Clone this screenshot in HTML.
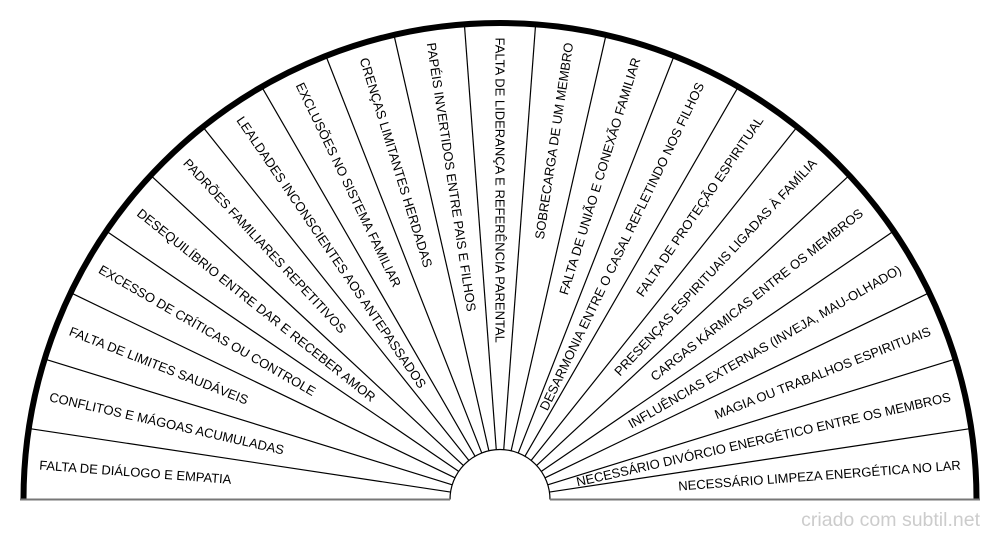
<!DOCTYPE html>
<html><head><meta charset="utf-8"><style>
html,body{margin:0;padding:0;background:#fff;}
svg{display:block;}
text{font-family:"Liberation Sans",sans-serif;}
</style></head><body>
<svg id="s" width="1000" height="540" viewBox="0 0 1000 540" xmlns="http://www.w3.org/2000/svg">
<g id="lines" stroke="#000" stroke-width="1.2" fill="none"></g>
<path d="M23.5 499.5 A476 476 0 0 1 976.5 499.5" stroke="#000" stroke-width="6" fill="none"/>
<path d="M450 499.5 A50 50 0 0 1 550 499.5" stroke="#000" stroke-width="1.2" fill="none"/>
<line x1="20" y1="499.5" x2="450" y2="499.5" stroke="#777" stroke-width="2"/>
<line x1="550" y1="499.5" x2="980" y2="499.5" stroke="#777" stroke-width="2"/>
<g id="labels" font-size="13" fill="#000"></g>
<text x="980" y="526" font-size="19.5" fill="#ccc" text-anchor="end">criado com subtil.net</text>
</svg>
<script>
var L=["FALTA DE DIÁLOGO E EMPATIA","CONFLITOS E MÁGOAS ACUMULADAS","FALTA DE LIMITES SAUDÁVEIS","EXCESSO DE CRÍTICAS OU CONTROLE","DESEQUILÍBRIO ENTRE DAR E RECEBER AMOR","PADRÕES FAMILIARES REPETITIVOS","LEALDADES INCONSCIENTES AOS ANTEPASSADOS","EXCLUSÕES NO SISTEMA FAMILIAR","CRENÇAS LIMITANTES HERDADAS","PAPÉIS INVERTIDOS ENTRE PAIS E FILHOS","FALTA DE LIDERANÇA E REFERÊNCIA PARENTAL","SOBRECARGA DE UM MEMBRO","FALTA DE UNIÃO E CONEXÃO FAMILIAR","DESARMONIA ENTRE O CASAL REFLETINDO NOS FILHOS","FALTA DE PROTEÇÃO ESPIRITUAL","PRESENÇAS ESPIRITUAIS LIGADAS À FAMÍLIA","CARGAS KÁRMICAS ENTRE OS MEMBROS","INFLUÊNCIAS EXTERNAS (INVEJA, MAU-OLHADO)","MAGIA OU TRABALHOS ESPIRITUAIS","NECESSÁRIO DIVÓRCIO ENERGÉTICO ENTRE OS MEMBROS","NECESSÁRIO LIMPEZA ENERGÉTICA NO LAR"];
var n=L.length,cx=500,cy=499.5,ns="http://www.w3.org/2000/svg",d=Math.PI/180;
var gl=document.getElementById("lines"),gt=document.getElementById("labels");
for(var i=1;i<n;i++){var a=(180-i*180/n)*d;var l=document.createElementNS(ns,"line");
l.setAttribute("x1",cx+50*Math.cos(a));l.setAttribute("y1",cy-50*Math.sin(a));
l.setAttribute("x2",cx+476*Math.cos(a));l.setAttribute("y2",cy-476*Math.sin(a));gl.appendChild(l);}
for(var i=0;i<n;i++){var th=180-(i+0.5)*180/n,a=th*d,r=462;
var x=cx+r*Math.cos(a),y=cy-r*Math.sin(a);var t=document.createElementNS(ns,"text");
t.setAttribute("x",x);t.setAttribute("y",y);t.setAttribute("dominant-baseline","central");
var rot,anc;if(th>=90-0.01){rot=180-th;anc="start";}else{rot=-th;anc="end";}
t.setAttribute("text-anchor",anc);t.setAttribute("transform","rotate("+rot+" "+x+" "+y+")");
t.textContent=L[i];gt.appendChild(t);}
</script>
</body></html>
